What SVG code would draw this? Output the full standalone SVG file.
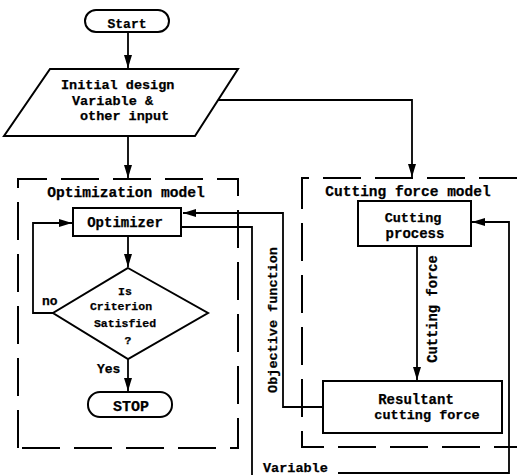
<svg xmlns="http://www.w3.org/2000/svg" width="517" height="475" viewBox="0 0 517 475">
<style>
text{font-family:"Liberation Mono","DejaVu Sans Mono",monospace;font-weight:bold;fill:#000;font-size:14px;stroke:#000;stroke-width:0.25}
.b{fill:#fff;stroke:#000;stroke-width:2}
.c{fill:none;stroke:#000;stroke-width:1.8}
.d{fill:none;stroke:#000;stroke-width:2;stroke-dasharray:38 14}
.m{text-anchor:middle}
</style>
<defs>
<marker id="ah" viewBox="0 0 13 10" refX="13" refY="5" markerWidth="13" markerHeight="10" markerUnits="userSpaceOnUse" orient="auto">
<path d="M0,1 L13,5 L0,9 Z" fill="#000"/>
</marker>
</defs>
<rect width="517" height="475" fill="#fff" stroke="none"/>

<g id="optimization-model">
<path class="d" d="M18,448 L18,179 L238,179 L238,448 Z"/>
<text x="126" y="197" class="m" style="font-size:14.6px">Optimization model</text>
</g>
<g id="cutting-force-model">
<path class="d" d="M517,178 L302,178 L302,447 L517,447"/>
<text x="408" y="196" class="m" style="font-size:14.5px">Cutting force model</text>
</g>

<g id="connectors">
<path class="c" d="M128,32 L128,68" marker-end="url(#ah)"/>
<path class="c" d="M128,136 L128,178" marker-end="url(#ah)"/>
<path class="c" d="M218,100 L412,100 L412,177" marker-end="url(#ah)"/>
<path class="c" d="M128,236 L128,267" marker-end="url(#ah)"/>
<path class="c" d="M53,313 L33,313 L33,223 L72,223" marker-end="url(#ah)"/>
<path class="c" d="M128,359 L128,391" marker-end="url(#ah)"/>
<path class="c" d="M181,227 L252,227 L252,475"/>
<path class="c" d="M323,407 L283,407 L283,213 L183,213" marker-end="url(#ah)"/>
<path class="c" d="M417,246 L417,380" marker-end="url(#ah)"/>
<path class="c" d="M338,473 L509,473 L509,222 L472,222" marker-end="url(#ah)"/>
<text x="42" y="305" style="font-size:13px">no</text>
<text x="97" y="373" style="font-size:13px">Yes</text>
<text transform="translate(277,320) rotate(-90)" class="m" style="font-size:13.5px">Objective function</text>
<text transform="translate(437,309) rotate(-90)" class="m" style="font-size:13.8px">Cutting force</text>
<text x="263" y="472" style="font-size:13.5px">Variable</text>
</g>

<g id="start">
<rect class="b" x="85" y="10" width="84" height="22" rx="11"/>
<text x="127" y="28" class="m" style="font-size:13px">Start</text>
</g>
<g id="input">
<path class="b" d="M50,69 L238,69 L195,136 L4,136 Z"/>
<text x="61" y="89" style="font-size:13.5px">Initial design</text>
<text x="72" y="105" style="font-size:13.5px">Variable &amp;</text>
<text x="80" y="120" style="font-size:13.5px">other input</text>
</g>
<g id="optimizer">
<rect class="b" x="73" y="208" width="108" height="28"/>
<text x="125" y="227" class="m">Optimizer</text>
</g>
<g id="criterion">
<path class="b" d="M128,268 L208,313 L128,359 L53,313 Z"/>
<text x="125" y="295" class="m" style="font-size:11.5px">Is</text>
<text x="121" y="310" class="m" style="font-size:11.5px">Criterion</text>
<text x="125" y="327" class="m" style="font-size:11.5px">Satisfied</text>
<text x="128" y="344" class="m" style="font-size:11.5px">?</text>
</g>
<g id="stop">
<rect class="b" x="88" y="392" width="84" height="25" rx="12"/>
<text x="131" y="411" class="m" style="font-size:15px">STOP</text>
</g>
<g id="cutting-process">
<rect class="b" x="358" y="201" width="113" height="45"/>
<text x="413" y="222" class="m" style="font-size:13.5px">Cutting</text>
<text x="415" y="238" class="m">process</text>
</g>
<g id="resultant">
<rect class="b" x="323" y="381" width="179" height="52"/>
<text x="416" y="404" class="m">Resultant</text>
<text x="427" y="419" class="m" style="font-size:13.5px">cutting force</text>
</g>
</svg>
